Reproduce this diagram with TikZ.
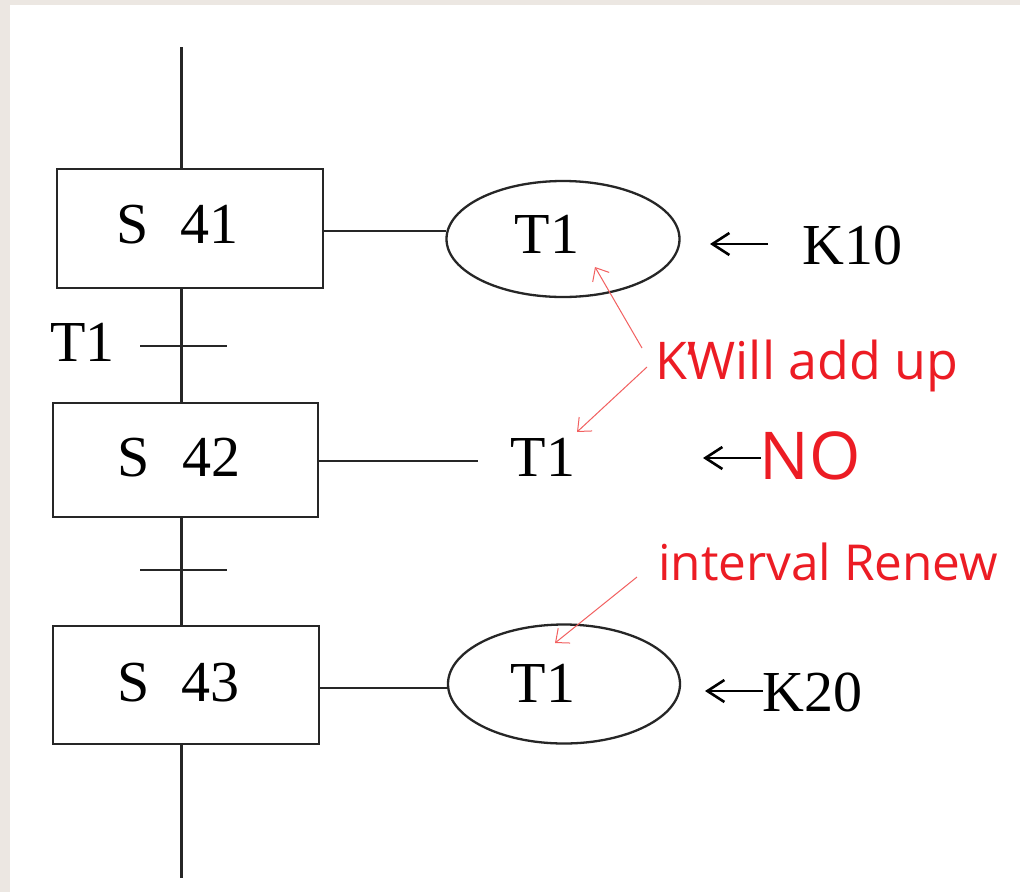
\documentclass[tikz,border=0pt]{standalone}
\usepackage{fontspec}
\setmainfont{Liberation Serif}
\newfontfamily\redsans{Open Sans}
\usetikzlibrary{arrows.meta,shapes.geometric}
\definecolor{bgbeige}{RGB}{236,231,226}
\definecolor{notered}{RGB}{236,28,36}
\definecolor{pointred}{RGB}{242,96,96}
\tikzset{
  stepbox/.style={draw, rectangle, line width=2.3pt, fill=white, inner sep=0pt, draw=black!85},
  timer/.style={draw, ellipse, line width=2.3pt, fill=white, inner sep=0pt, draw=black!85},
  serl/.style={inner sep=0pt, font=\fontsize{58}{60}\selectfont},
  redl/.style={inner sep=0pt, text=notered, font=\redsans\fontsize{49.5}{52}\selectfont},
  wire/.style={line width=2.3pt, draw=black!85},
  karrow/.style={line width=2.6pt, -{Straight Barb[length=17pt,width=22pt,line width=2.6pt]}},
  rarrow/.style={line width=1pt, draw=pointred, -{Straight Barb[length=11pt,width=19pt,line width=1pt]}}
}
\begin{document}
\begin{tikzpicture}[x=1pt,y=-1pt]
\useasboundingbox (0,0) rectangle (1020,892);
\fill[bgbeige] (0,0) rectangle (1020,892);
\fill[white] (10,5) rectangle (1020,892);

% spine
\coordinate (top) at (181.5,47);
\coordinate (bot) at (181.5,878);
\draw[wire] (top) -- (bot);

% steps
\node[stepbox, minimum width=266pt, minimum height=119pt] (s41) at (190,228.5) {};
\node[stepbox, minimum width=265pt, minimum height=114pt] (s42) at (185.5,460) {};
\node[stepbox, minimum width=266pt, minimum height=118pt] (s43) at (186,685) {};
\node[serl] (l41) at (177.5,225) {S\hspace{0.55em}41};
\node[serl] (l42) at (179,458) {S\hspace{0.55em}42};
\node[serl] (l43) at (178.5,683) {S\hspace{0.55em}43};

% transitions
\coordinate (tr1a) at (140,346);
\coordinate (tr1b) at (227,346);
\draw[wire] (tr1a) -- (tr1b);
\coordinate (tr2a) at (140,570);
\coordinate (tr2b) at (227,570);
\draw[wire] (tr2a) -- (tr2b);
\node[serl] (tlab) at (82.5,342.5) {T1};

% timers
\node[timer, minimum width=233pt, minimum height=116pt] (t41) at (563,239) {};
\node[serl] (t41l) at (547,234.5) {T1};
\draw[wire] (s41.east |- t41.176) -- (t41.176);

\coordinate (t42end) at (478,461);
\draw[wire] (s42.east |- t42end) -- (t42end);
\node[serl] (t42l) at (543,457.5) {T1};

\node[timer, minimum width=232pt, minimum height=119pt] (t43) at (564,684) {};
\node[serl] (t43l) at (543,683) {T1};
\draw[wire] (s43.east |- t43.182) -- (t43.182);

% set values
\node[serl] (k10) at (852.5,245.5) {K10};
\coordinate (a1s) at (768,244);
\coordinate (a1e) at (710,244);
\draw[karrow] (a1s) -- (a1e);

\node[redl, font=\redsans\fontsize{66}{70}\selectfont] (no) at (810,455.5) {NO};
\coordinate (a2s) at (761,458);
\coordinate (a2e) at (703,458);
\draw[karrow] (a2s) -- (a2e);

\node[serl] (k20) at (812.5,692) {K20};
\coordinate (a3s) at (763,691);
\coordinate (a3e) at (705,691);
\draw[karrow] (a3s) -- (a3e);

% red notes
\node[redl, anchor=base west, font=\redsans\fontsize{52}{55}\selectfont] (note1) at (655,379) {K‘\kern-0.16em Will add up};
\node[redl, anchor=base west] (note2) at (658,580) {interval Renew};
\coordinate (p1s) at (642,348);
\coordinate (p1e) at (595,267);
\coordinate (p2s) at (647,367);
\coordinate (p2e) at (577,432);
\coordinate (p3s) at (637,577);
\coordinate (p3e) at (555,643);
\draw[rarrow] (p1s) -- (p1e);
\draw[rarrow] (p2s) -- (p2e);
\draw[rarrow] (p3s) -- (p3e);
\end{tikzpicture}
\end{document}
